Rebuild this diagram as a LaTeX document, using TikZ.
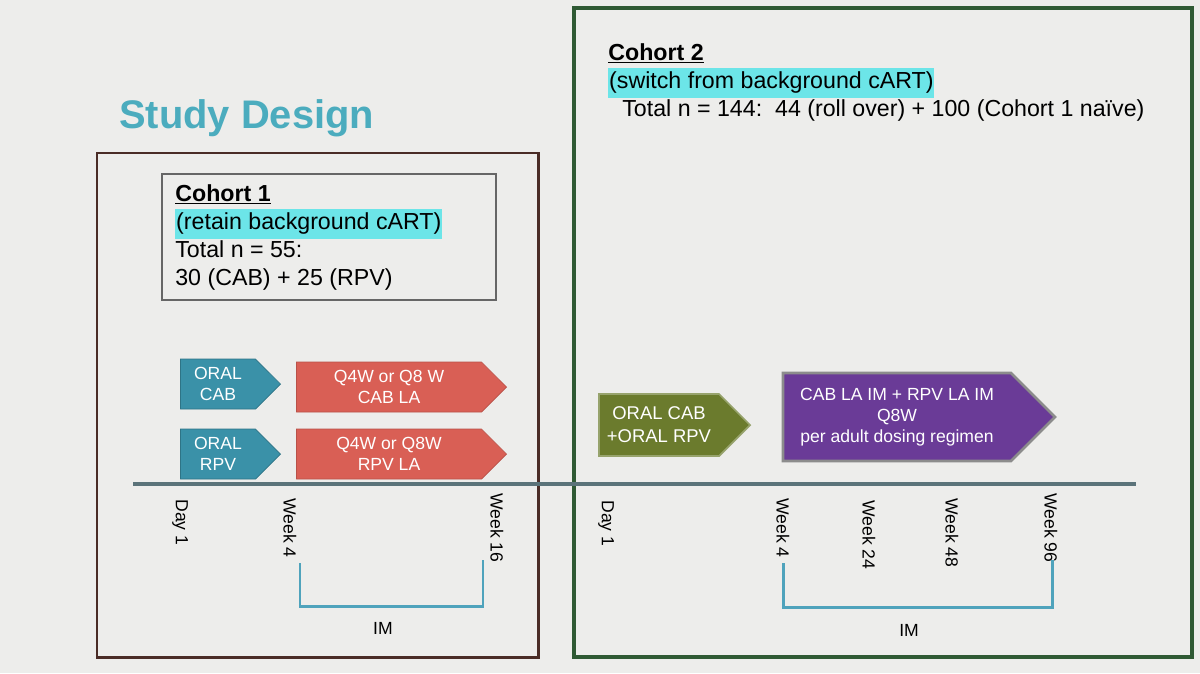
\documentclass[tikz,border=0pt]{standalone}
\usepackage{fontspec}
\setmainfont{Liberation Sans}
\usepackage{tikz}
\usetikzlibrary{shapes.symbols}
\definecolor{slide}{HTML}{EDEDEB}
\definecolor{titleteal}{HTML}{4BACBE}
\definecolor{hl}{HTML}{6CE5E8}
\definecolor{brownframe}{HTML}{4A2C26}
\definecolor{greenframe}{HTML}{2F5A34}
\definecolor{axis}{HTML}{5B7379}
\definecolor{oralteal}{HTML}{3A91A8}
\definecolor{lared}{HTML}{D95F55}
\definecolor{oralgreen}{HTML}{6B7B2D}
\definecolor{lapurple}{HTML}{6A3B97}
\definecolor{bracketblue}{HTML}{4FA3BC}
\newcommand{\hilite}[1]{{\setlength{\fboxsep}{0.5pt}\colorbox{hl}{\strut #1}}}

\begin{document}
\begin{tikzpicture}[x=0.02cm, y=-0.02cm,
		phase/.style={signal, signal to=east, signal pointer angle=90, inner sep=0pt,
			text=white, align=center, font=\fontsize{10}{11.9}\selectfont},
		tick/.style={rotate=-90, anchor=west, inner sep=0pt, font=\fontsize{10}{12}\selectfont},
		bracket/.style={draw=bracketblue, line width=1.7pt},
		imlabel/.style={font=\fontsize{10}{12}\selectfont}]
				\fill[slide] (0,0) rectangle (1200,673);
				\useasboundingbox (0,0) rectangle (1200,673);
				\node[anchor=base west, inner sep=0pt, text=titleteal, font=\fontsize{22.7}{26}\selectfont\bfseries] (title) at (119,128) {Study Design};
				% cohort frames
				\draw[brownframe, line width=1.7pt] (97,153) rectangle (538,657);
				\draw[greenframe, line width=2.3pt] (574,8) rectangle (1192,657);
				\draw[draw=black!60, line width=0.7pt] (162,174) rectangle (496,300);
				\node[anchor=north west, inner sep=0pt, align=left, font=\fontsize{13.2}{16}\selectfont] (cohorta) at (175,184)
					{\underline{\textbf{Cohort 1}}\\ \hilite{(retain background cART)}\\ Total n = 55:\\ 30 (CAB) + 25 (RPV)};
				\node[anchor=north west, inner sep=0pt, align=left, font=\fontsize{13.2}{16}\selectfont] (cohortb) at (608,43)
					{\underline{\textbf{Cohort 2}}\\ \hilite{(switch from background cART)}\\ \hspace*{0.28cm}Total n = 144:\ \ 44 (roll over) + 100 (Cohort 1 na\"{\i}ve)};
				% regimens
				\node[phase, fill=oralteal, draw=oralteal!80!black, minimum width=100*0.02cm, minimum height=50*0.02cm] (oralcab) at (218,384) {ORAL\\CAB};
				\node[phase, fill=oralteal, draw=oralteal!80!black, minimum width=100*0.02cm, minimum height=50*0.02cm] (oralrpv) at (218,454) {ORAL\\RPV};
				\node[phase, fill=lared, draw=lared!85!black, minimum width=210*0.02cm, minimum height=50*0.02cm] (cabla) at (389,387) {Q4W or Q8 W\\CAB LA};
				\node[phase, fill=lared, draw=lared!85!black, minimum width=210*0.02cm, minimum height=50*0.02cm] (rpvla) at (389,454) {Q4W or Q8W\\RPV LA};
				\node[phase, fill=oralgreen, draw=oralgreen!70!white, line width=1pt, minimum width=151*0.02cm, minimum height=62*0.02cm,
					font=\fontsize{10.5}{13}\selectfont] (oralboth) at (659,425) {ORAL CAB\\+ORAL RPV};
				\node[phase, fill=lapurple, draw=black!45, line width=1.5pt, minimum width=272*0.02cm, minimum height=88*0.02cm] (laboth) at (897,417)
					{CAB LA IM + RPV LA IM\\Q8W\\per adult dosing regimen};
				% timeline
				\draw[axis, line width=2.8pt] (133,484) -- (1136,484);
				\foreach \x/\y/\t [count=\i] in {180/499/Day 1, 290/498/Week 4, 497/493/Week 16, 606/500/Day 1,
					783/498/Week 4, 869/500/Week 24, 952/498/Week 48, 1051/493/Week 96} {
					\node[tick] (tick\i) at (\x,\y) {\t};
				}
				\draw[bracket] (300,563) |- (483,606) -- (483,560);
				\draw[bracket] (783,563) |- (1052,607) -- (1052,560);
				\node[imlabel] (ima) at (383,628) {IM};
				\node[imlabel] (imb) at (909,630) {IM};
			\end{tikzpicture}
\end{document}
